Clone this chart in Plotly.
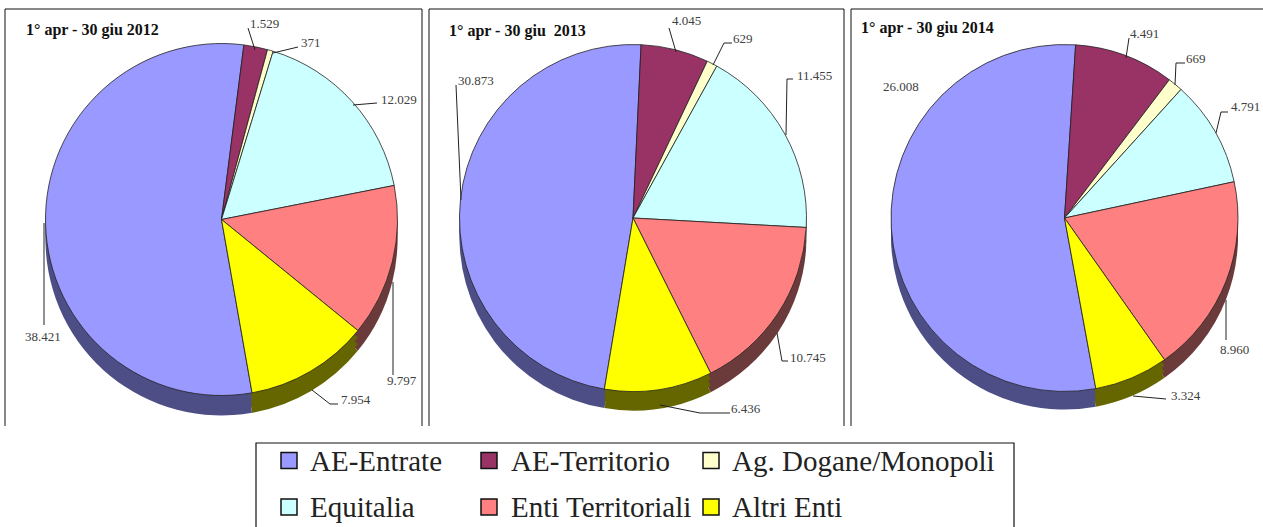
import plotly.graph_objects as go

W, H = 1263, 527

categories = ["AE-Entrate", "AE-Territorio", "Ag. Dogane/Monopoli",
              "Equitalia", "Enti Territoriali", "Altri Enti"]
values_2012 = [38421, 1529, 371, 12029, 9797, 7954]
values_2013 = [30873, 4045, 629, 11455, 10745, 6436]
values_2014 = [26008, 4491, 669, 4791, 8960, 3324]
titles = ["1° apr - 30 giu 2012", "1° apr - 30 giu  2013", "1° apr - 30 giu 2014"]

top_colors = ["#9999FF", "#993366", "#FFFFCC", "#CCFFFF", "#FF8080", "#FFFF00"]
side_colors = ["#4D4E85", "#4D1A33", "#808066", "#668080", "#6B3A3A", "#666600"]

def px(x):
    return x / W

def py(y):
    return 1 - y / H

panels = [
    dict(values=values_2012, cx=221.5, cy=219.5, r=176, depth=20, rot=170, title_xy=(24, 30),
         label_xy=[(43, 336), (264, 23), (311, 43), (399, 99), (402, 380), (356, 399)],
         leaders=[[(44, 325), (44, 223)], [(248, 28), (255, 50)], [(298, 47), (273, 53)],
                  [(377, 103), (353, 105)], [(393, 375), (393, 282)],
                  [(338, 404), (330, 404), (312, 390)]]),
    dict(values=values_2013, cx=633, cy=218, r=173.5, depth=19, rot=189.5, title_xy=(447, 31),
         label_xy=[(476, 80), (686, 20), (743, 39), (814, 75), (808, 357), (746, 408)],
         leaders=[[(456, 85), (461, 200)], [(669, 28), (676, 52)],
                  [(732, 43), (724, 43), (713, 65)], [(793, 79), (787, 79), (786, 135)],
                  [(788, 361), (782, 361), (777, 333)], [(730, 413), (700, 413), (660, 405)]]),
    dict(values=values_2014, cx=1064.5, cy=218, r=173.5, depth=18, rot=169.6, title_xy=(859, 28),
         label_xy=[(901, 86), (1144, 33), (1196, 59), (1245, 107), (1234, 349), (1186, 395)],
         leaders=[[], [(1129, 38), (1126, 58)], [(1185, 63), (1176, 63), (1175, 85)],
                  [(1228, 112), (1221, 112), (1216, 133)], [(1226, 340), (1226, 300)],
                  [(1166, 399), (1133, 396)]]),
]

frames = [(5, 422), (429, 844), (851, 1270)]
legend_cols = [(281, 308), (481, 509), (703, 730)]
legend_rows = [460.5, 507]

fig = go.Figure()
shapes, annotations = [], []


def add_pie(values, cx, cy, r, rot, colors, line_color, line_width):
    fig.add_trace(go.Pie(
        labels=categories, values=values, sort=False, direction="clockwise",
        rotation=rot, textinfo="none", hoverinfo="label+value", showlegend=False,
        domain=dict(x=[px(cx - r), px(cx + r)], y=[py(cy + r), py(cy - r)]),
        marker=dict(colors=colors, line=dict(color=line_color, width=line_width)),
    ))


for k, p in enumerate(panels):
    for frac in (1, 2 / 3, 1 / 3):
        add_pie(p["values"], p["cx"], p["cy"] + p["depth"] * frac, p["r"], p["rot"],
                side_colors, "rgba(0,0,0,0)", 0)
    add_pie(p["values"], p["cx"], p["cy"], p["r"], p["rot"], top_colors, "#222222", 0.8)

    annotations.append(dict(
        x=px(p["title_xy"][0]), y=py(p["title_xy"][1]), xref="paper", yref="paper",
        text=f"<b>{titles[k]}</b>", showarrow=False, xanchor="left", yanchor="middle",
        font=dict(family="Liberation Serif", size=16, color="#111111"),
    ))
    for v, (lx, ly), pts in zip(p["values"], p["label_xy"], p["leaders"]):
        annotations.append(dict(
            x=px(lx), y=py(ly), xref="paper", yref="paper",
            text=f"{v:,}".replace(",", "."), showarrow=False,
            xanchor="center", yanchor="middle",
            font=dict(family="Liberation Serif", size=13, color="#404040"),
        ))
        if pts:
            shapes.append(dict(
                type="path", xref="paper", yref="paper",
                path="M " + " L ".join(f"{px(x)},{py(y)}" for x, y in pts),
                line=dict(color="#222222", width=1),
            ))

for x0, x1 in frames:
    shapes.append(dict(
        type="path", xref="paper", yref="paper",
        path=f"M {px(x0)},{py(426)} L {px(x0)},{py(9)} L {px(x1)},{py(9)} L {px(x1)},{py(426)}",
        line=dict(color="#111111", width=1),
    ))

shapes.append(dict(
    type="path", xref="paper", yref="paper",
    path=f"M {px(256)},{py(530)} L {px(256)},{py(443)} L {px(1014)},{py(443)} L {px(1014)},{py(530)}",
    line=dict(color="#111111", width=1.2),
))

for i, (name, color) in enumerate(zip(categories, top_colors)):
    sx, tx = legend_cols[i % 3]
    yc = legend_rows[i // 3]
    shapes.append(dict(
        type="rect", xref="paper", yref="paper",
        x0=px(sx), x1=px(sx + 16), y0=py(yc + 8), y1=py(yc - 8),
        fillcolor=color, line=dict(color="#111111", width=1.5),
    ))
    annotations.append(dict(
        x=px(tx), y=py(yc), xref="paper", yref="paper", text=name, showarrow=False,
        xanchor="left", yanchor="middle",
        font=dict(family="Liberation Serif", size=29, color="#222222"),
    ))

fig.update_layout(
    width=W, height=H, margin=dict(l=0, r=0, t=0, b=0),
    paper_bgcolor="white", plot_bgcolor="white",
    showlegend=False, shapes=shapes, annotations=annotations,
)
fig.write_html("out.html", config=dict(displayModeBar=False),
               post_script="document.body.style.margin='0';document.documentElement.style.overflow='hidden';")
